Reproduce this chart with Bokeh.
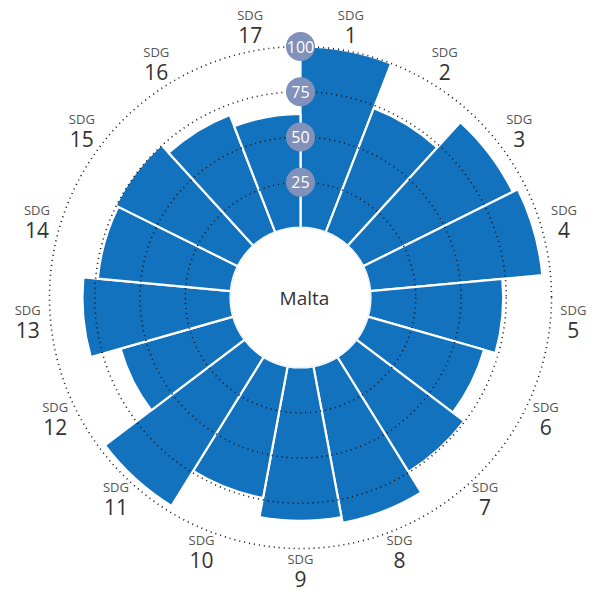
import math
from bokeh.plotting import figure
from bokeh.models import Range1d, ColumnDataSource
from bokeh.core.properties import value
from bokeh.embed import file_html
from bokeh.resources import INLINE

# ---- data ----
country = "Malta"
goals = [str(i) for i in range(1, 18)]
scores = [100, 73.5, 92.4, 95.5, 73.3, 66.8, 74.6, 88.0, 84.7, 74.0,
          96.8, 64.7, 81.8, 73.8, 75.5, 69.5, 62.8]
ring_values = [25, 50, 75, 100]
ring_labels = ["25", "50", "75", "100"]

# ---- geometry (pixel units) ----
R0 = 70.0          # radius of score 0 (hole)
K = 1.81           # pixels per score unit
LABEL_R = 274.0
n = len(goals)
step = 360.0 / n

def rad(v):
    return R0 + K * v

starts, ends, outer, inner = [], [], [], []
lx, ly_top, ly_bot = [], [], []
for i, s in enumerate(scores):
    a0 = 90 - (i + 1) * step
    a1 = 90 - i * step
    starts.append(a0)
    ends.append(a1)
    outer.append(rad(s))
    inner.append(R0)
    mid = math.radians((a0 + a1) / 2)
    cx = LABEL_R * math.cos(mid)
    cy = LABEL_R * math.sin(mid) + 2
    lx.append(cx)
    ly_top.append(cy + 11)
    ly_bot.append(cy - 9)

W, H = 596, 594
CX, CY = 300, 297
p = figure(width=W, height=H, x_range=Range1d(-CX, W - CX), y_range=Range1d(-(H - CY), CY),
           output_backend="svg", toolbar_location=None, min_border=0)
p.axis.visible = False
p.grid.visible = False
p.outline_line_color = None
p.background_fill_color = "white"
p.border_fill_color = "white"

src = ColumnDataSource(dict(x=[0] * n, y=[0] * n, start=starts, end=ends,
                            inner=inner, outer=outer))
p.annular_wedge(x="x", y="y", inner_radius="inner", outer_radius="outer",
                start_angle="start", end_angle="end", start_angle_units="deg",
                end_angle_units="deg", direction="anticlock", source=src,
                fill_color="#1272BE", line_color="white", line_width=2.2)

# hole
p.circle(x=[0], y=[0], radius=R0, fill_color="white", line_color="#dde3ea", line_width=0.6)

# dotted rings
for v in ring_values:
    p.circle(x=[0], y=[0], radius=rad(v), fill_color=None, line_color="#111111",
             line_width=1.6, line_dash="1 4")

# ring labels
rl_y = [rad(v) for v in ring_values]
p.circle(x=[0] * len(rl_y), y=rl_y, radius=14.5, fill_color="#8291B9", line_color=None)
p.text(x=[0] * len(rl_y), y=rl_y, text=ring_labels, text_align="center",
       text_baseline="middle", text_color="white", text_font=value("Open Sans"),
       text_font_size="16px")

# goal labels
p.text(x=lx, y=ly_top, text=["SDG"] * n, text_align="center", text_baseline="middle",
       text_color="#555555", text_font=value("Open Sans"), text_font_size="13px")
p.text(x=lx, y=ly_bot, text=goals, text_align="center", text_baseline="middle",
       text_color="#333333", text_font=value("Open Sans"), text_font_size="21px")

# center label
p.text(x=[4], y=[0], text=[country], text_align="center", text_baseline="middle",
       text_color="#333333", text_font=value("Open Sans"), text_font_size="19px")

open("out.html", "w").write(file_html(p, INLINE))
